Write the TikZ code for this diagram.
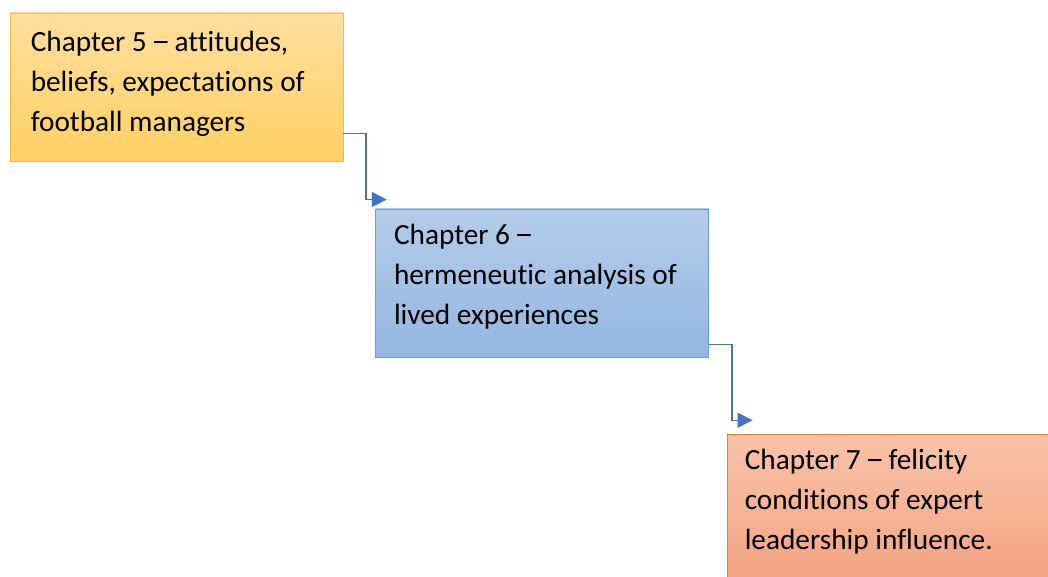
\documentclass[tikz,border=0pt]{standalone}
\usepackage{fontspec}
\usepackage{graphicx}
\setmainfont{Carlito}[Ligatures={NoCommon}]
\usetikzlibrary{arrows.meta}

% a slightly longer en dash that keeps the normal advance width
\newcommand\longdash{\kern-2.2pt\scalebox{1.3}[1.1]{–}\kern-2.2pt}

\definecolor{goldtop}{HTML}{FFDF9E}
\definecolor{goldbot}{HTML}{FFD062}
\definecolor{goldline}{HTML}{F5BC3A}
\definecolor{bluetop}{HTML}{B4CCEA}
\definecolor{bluebot}{HTML}{93B6E1}
\definecolor{blueline}{HTML}{6A9FD6}
\definecolor{salmtop}{HTML}{F8C3AA}
\definecolor{salmbot}{HTML}{F3A380}
\definecolor{salmline}{HTML}{ED7D31}
\definecolor{linkblue}{HTML}{4472C4}

\tikzset{
  chapbox/.style={rectangle, minimum width=333pt, minimum height=148pt,
    inner sep=0pt, line width=0.9pt},
  goldbox/.style={chapbox, draw=goldline, top color=goldtop, bottom color=goldbot},
  bluebox/.style={chapbox, draw=blueline, top color=bluetop, bottom color=bluebot},
  salmbox/.style={chapbox, draw=salmline, top color=salmtop, bottom color=salmbot},
  chaptext/.style={anchor=base west, inner sep=0pt, text width=310pt,
    align=flush left, font=\fontsize{29.3}{40}\selectfont\frenchspacing, text=black},
  link/.style={draw=linkblue, line width=1.3pt,
    -{Triangle[length=15pt,width=15pt]}}
}

\begin{document}
\begin{tikzpicture}[x=1pt,y=1pt]
  \useasboundingbox[fill=white] (0,0) rectangle (1048,576);

  % chapter boxes
  \node[goldbox] (b1) at (176.5,489) {};
  \node[bluebox] (b2) at (542.25,293) {};
  \node[salmbox] (b3) at (893.5,68) {};

  % box texts
  \node[chaptext] (t1) at ([shift={(21,-39)}]b1.north west)
    {Chapter 5 \longdash{} attitudes,\\beliefs, expectations of\\football managers};
  \node[chaptext] (t2) at ([shift={(18.5,-36)}]b2.north west)
    {Chapter 6 \longdash\\hermeneutic analysis of\\lived experiences};
  \node[chaptext] (t3) at ([shift={(18,-36)}]b3.north west)
    {Chapter 7 \longdash{} felicity\\conditions of expert\\leadership influence.};

  % arrow ends just above the next box
  \coordinate (e1) at ([shift={(11.5,9)}]b2.north west);
  \coordinate (e2) at ([shift={(26,13.3)}]b3.north west);

  % elbow connectors
  \draw[link] ([yshift=28]b1.south east) -- ++(22.5,0) |- (e1);
  \draw[link] ([yshift=13]b2.south east) -- ++(22.7,0) |- (e2);
\end{tikzpicture}
\end{document}
